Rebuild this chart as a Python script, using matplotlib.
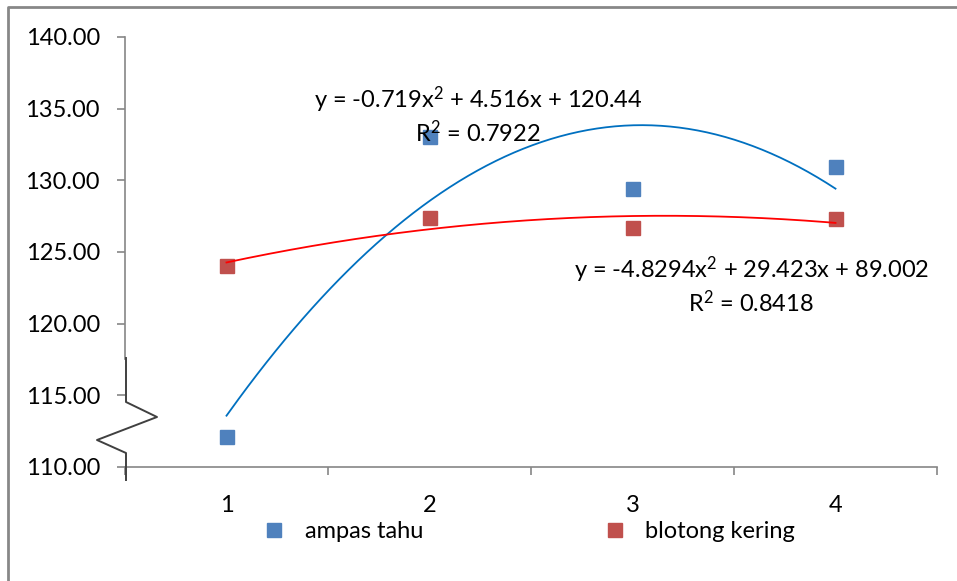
import numpy as np
import matplotlib
matplotlib.use('Agg')
import matplotlib.pyplot as plt
from matplotlib.lines import Line2D

plt.rcParams['font.family'] = ['Lato', 'DejaVu Sans']
plt.rcParams['mathtext.fontset'] = 'custom'
plt.rcParams['mathtext.rm'] = 'Lato'
plt.rcParams['mathtext.it'] = 'Lato'
plt.rcParams['mathtext.default'] = 'regular'

# data
perlakuan = [1, 2, 3, 4]
ampas_tahu = [112.1, 133.0, 129.4, 130.9]
blotong_kering = [124.0, 127.4, 126.7, 127.3]
eq_ampas = 'y = -0.719x$^{2}$ + 4.516x + 120.44\nR$^{2}$ = 0.7922'
eq_blotong = 'y = -4.8294x$^{2}$ + 29.423x + 89.002\nR$^{2}$ = 0.8418'

W, H = 957, 581
fig = plt.figure(figsize=(W / 100, H / 100), dpi=100)
ax = fig.add_axes([125 / W, (H - 467) / H, (937 - 125) / W, (467 - 37) / H])

blue, red = '#4F81BD', '#C0504D'
ax.plot(perlakuan, ampas_tahu, 's', color=blue, ms=10, label='ampas tahu', zorder=3)
ax.plot(perlakuan, blotong_kering, 's', color=red, ms=10, label='blotong kering', zorder=3)

# polynomial trendlines (order 2)
xs = np.linspace(perlakuan[0], perlakuan[-1], 200)
ax.plot(xs, np.polyval(np.polyfit(perlakuan, ampas_tahu, 2), xs), color='#0070C0', lw=1.3, zorder=4)
ax.plot(xs, np.polyval(np.polyfit(perlakuan, blotong_kering, 2), xs), color='#FF0000', lw=1.3, zorder=4)

ax.text(2.24, 134.55, eq_ampas, ha='center', va='center', fontsize=17, linespacing=1.2)
ax.text(3.585, 122.7, eq_blotong, ha='center', va='center', fontsize=17, linespacing=1.2)

ax.set_xlim(0.5, 4.5)
ax.set_ylim(110, 140)
ax.set_yticks(np.arange(110, 141, 5))
ax.set_yticklabels([f'{v:.2f}' for v in np.arange(110, 141, 5)])
ax.set_xticks([0.5, 1.5, 2.5, 3.5, 4.5])
ax.set_xticklabels([])
ax.set_xticks(perlakuan, minor=True)
ax.set_xticklabels([str(p) for p in perlakuan], minor=True)

grey = '#868686'
ax.tick_params(axis='y', direction='out', length=6, width=1.2, color=grey, pad=12, labelsize=17)
ax.tick_params(axis='x', which='major', direction='out', length=6, width=1.2, color=grey)
ax.tick_params(axis='x', which='minor', length=0, pad=20, labelsize=17)

for s in ['top', 'right']:
    ax.spines[s].set_visible(False)
ax.spines['bottom'].set_color(grey)
ax.spines['bottom'].set_linewidth(1.2)
ax.spines['left'].set_color(grey)
ax.spines['left'].set_linewidth(1.2)
ax.spines['left'].set_bounds(117.5, 140)

# axis break zigzag
def px(x, y):
    return x / W, (H - y) / H

zz = [px(126, 358), px(126, 402), px(157, 417), px(97, 440), px(126, 453), px(126, 480)]
fig.add_artist(Line2D([p[0] for p in zz], [p[1] for p in zz], color='#404040', lw=1.4))

# chart border (top and left visible)
b = [px(8, 581), px(8, 7), px(957, 7)]
fig.add_artist(Line2D([p[0] for p in b], [p[1] for p in b], color='#878787', lw=2))

leg = fig.legend(loc='center', bbox_to_anchor=(529 / W, (H - 532) / H), ncol=2,
                 frameon=False, fontsize=17, columnspacing=7.6, handletextpad=0.8,
                 handlelength=1.0)

fig.savefig('out.png', dpi=100)
